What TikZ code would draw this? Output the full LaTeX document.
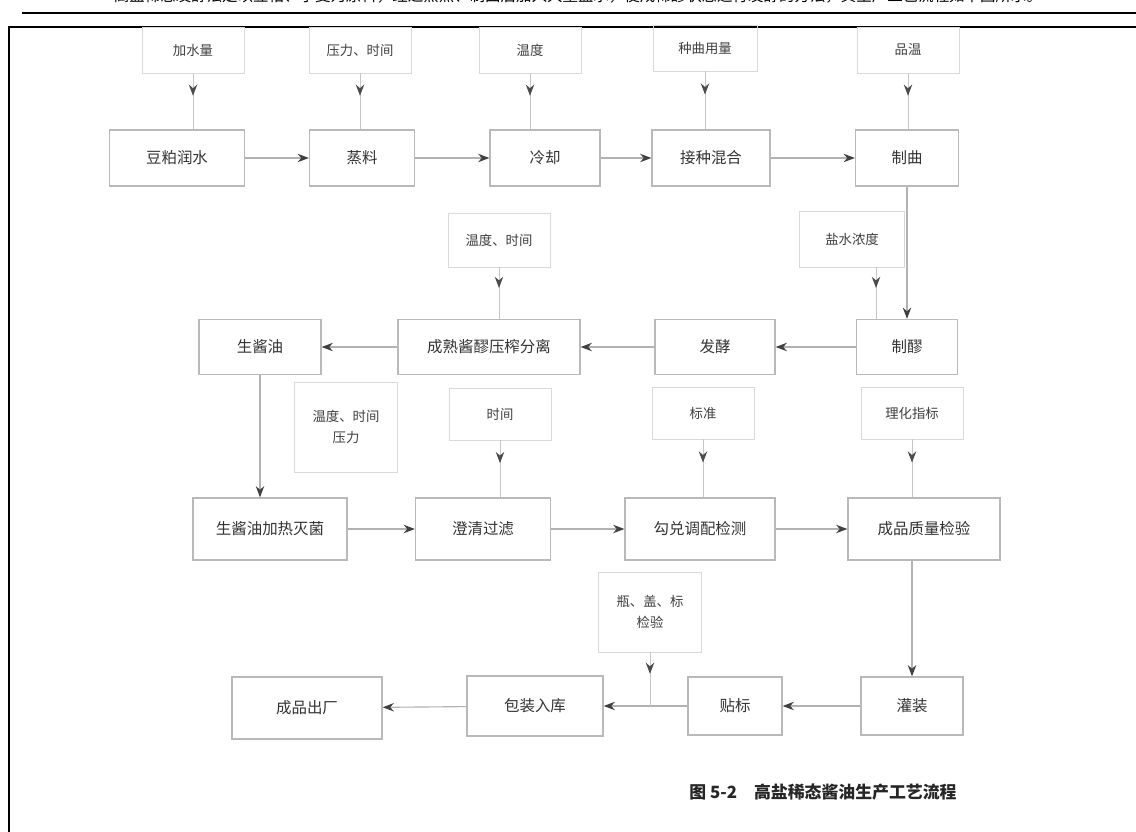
\documentclass[tikz,border=0pt]{standalone}
\usepackage{fontspec}
\newfontfamily\cjk{Noto Sans CJK SC}
\usetikzlibrary{arrows.meta,decorations.markings}

\begin{document}
\begin{tikzpicture}[x=0.025cm, y=-0.025cm,
    proc/.style={draw=gray!55, line width=0.9pt, minimum height=1.4cm, inner sep=2pt, text=black!80, font=\cjk\fontsize{11}{13}\selectfont},
    parm/.style={draw=gray!30, line width=0.6pt, minimum width=2.55cm, minimum height=1.15cm, align=center, text=black!75, font=\cjk\fontsize{9.5}{15}\selectfont},
    flow/.style={draw=gray!60, line width=0.8pt, -{Stealth[length=8pt,width=6pt,color=black!75]}},
    feed/.style={draw=gray!45, line width=0.7pt, postaction={decorate},
      decoration={markings, mark=at position 0.4 with {\arrow{Stealth[length=8pt,width=6pt,color=black!70]}}}}]

        \fill[white] (0,0) rectangle (1136,832);
        \useasboundingbox (0,0) rectangle (1136,832);

        % text line and frame
        \node[anchor=south, inner sep=0pt, font=\cjk\fontsize{11}{13}\selectfont] (head) at (578,3)
          {高盐稀态发酵法是以豆粕、小麦为原料，经过蒸煮、制曲后加入大量盐水，使成稀醪状态进行发酵的方法，其生产工艺流程如下图所示。};
        \draw[line width=1.5pt] (22,13) -- (1136,13);
        \draw[line width=0.8pt] (9,832) -- (9,27) -- (1136,27);

        % first row
        \node[proc, minimum width=3.375cm] (b1) at (177,158) {豆粕润水};
        \node[proc, minimum width=2.625cm] (b2) at (362,158) {蒸料};
        \node[proc, minimum width=2.75cm] (b3) at (545,158) {冷却};
        \node[proc, minimum width=2.95cm] (b4) at (711,158) {接种混合};
        \node[proc, minimum width=2.575cm] (b5) at (907,158) {制曲};

        \node[parm] (p1) at (193,50) {加水量};
        \node[parm] (p2) at (360,50) {压力、时间};
        \node[parm] (p3) at (530,50) {温度};
        \node[parm, minimum width=2.6cm] (p4) at (705,48) {种曲用量};
        \node[parm] (p5) at (908,50) {品温};

        \draw[flow] (b1) -- (b2);
        \draw[flow] (b2) -- (b3);
        \draw[flow] (b3) -- (b4);
        \draw[flow] (b4) -- (b5);

        \draw[feed] (p1) -- (p1 |- b1.north);
        \draw[feed] (p2) -- (p2 |- b2.north);
        \draw[feed] (p3) -- (p3 |- b3.north);
        \draw[feed] (p4) -- (p4 |- b4.north);
        \draw[feed] (p5) -- (p5 |- b5.north);

        % second row
        \node[proc, minimum width=3.05cm, minimum height=1.375cm] (c1) at (260,347) {生酱油};
        \node[proc, minimum width=4.55cm, minimum height=1.375cm] (c2) at (489,347) {成熟酱醪压榨分离};
        \node[proc, minimum width=3.0cm, minimum height=1.375cm] (c3) at (715,347) {发酵};
        \node[proc, minimum width=2.525cm, minimum height=1.375cm] (c4) at (907,347) {制醪};

        \node[parm, minimum height=1.35cm] (pc2) at (499,240) {温度、时间};
        \node[parm, minimum width=2.625cm, minimum height=1.4cm] (pc4) at (852,239) {盐水浓度};
        \coordinate (q4) at ([xshift=0.6cm]pc4.south);

        \draw[flow] (b5) -- (c4);
        \draw[flow] (c4) -- (c3);
        \draw[flow] (c3) -- (c2);
        \draw[flow] (c2) -- (c1);

        \draw[feed] (pc2) -- (pc2 |- c2.north);
        \draw[feed] (q4) -- (q4 |- c4.north);

        % third row
        \node[proc, minimum width=3.85cm, minimum height=1.55cm] (d1) at (270,529) {生酱油加热灭菌};
        \node[proc, minimum width=3.375cm, minimum height=1.55cm] (d2) at (483,529) {澄清过滤};
        \node[proc, minimum width=3.75cm, minimum height=1.55cm] (d3) at (700,529) {勾兑调配检测};
        \node[proc, minimum width=3.8cm, minimum height=1.55cm] (d4) at (924,529) {成品质量检验};

        \node[parm, minimum width=2.575cm, minimum height=2.25cm] (pd1) at (346,427) {温度、时间\\压力};
        \node[parm, minimum height=1.3cm] (pd2) at (500,414) {时间};
        \node[parm, minimum height=1.3cm] (pd3) at (703,413) {标准};
        \node[parm, minimum height=1.3cm] (pd4) at (912,413) {理化指标};

        \draw[flow] (c1) -- (c1 |- d1.north);
        \draw[flow] (d1) -- (d2);
        \draw[flow] (d2) -- (d3);
        \draw[flow] (d3) -- (d4);

        \draw[feed] (pd2) -- (pd2 |- d2.north);
        \draw[feed] (pd3) -- (pd3 |- d3.north);
        \draw[feed] (pd4) -- (pd4 |- d4.north);

        % fourth row
        \node[proc, minimum width=3.75cm, minimum height=1.55cm] (e1) at (307,708) {成品出厂};
        \node[proc, minimum width=3.4cm, minimum height=1.5cm] (e2) at (535,706) {包装入库};
        \node[proc, minimum width=2.35cm, minimum height=1.45cm] (e3) at (735,706) {贴标};
        \node[proc, minimum width=2.55cm, minimum height=1.45cm] (e4) at (912,706) {灌装};

        \node[parm, minimum width=2.575cm, minimum height=2.0cm] (pe) at (650,612) {瓶、盖、标\\检验};

        \draw[flow] (e4 |- d4.south) -- (e4);
        \draw[flow] (e4) -- (e3);
        \draw[flow] (e3) -- (e2);
        \draw[flow] (e2) -- (e1);

        \draw[feed] (pe) -- (pe |- e2.east);

        \node[font=\cjk\fontsize{12}{14}\selectfont\bfseries, text=black!85] (cap) at (823,792) {图 5-2\quad 高盐稀态酱油生产工艺流程};

      \end{tikzpicture}
\end{document}
